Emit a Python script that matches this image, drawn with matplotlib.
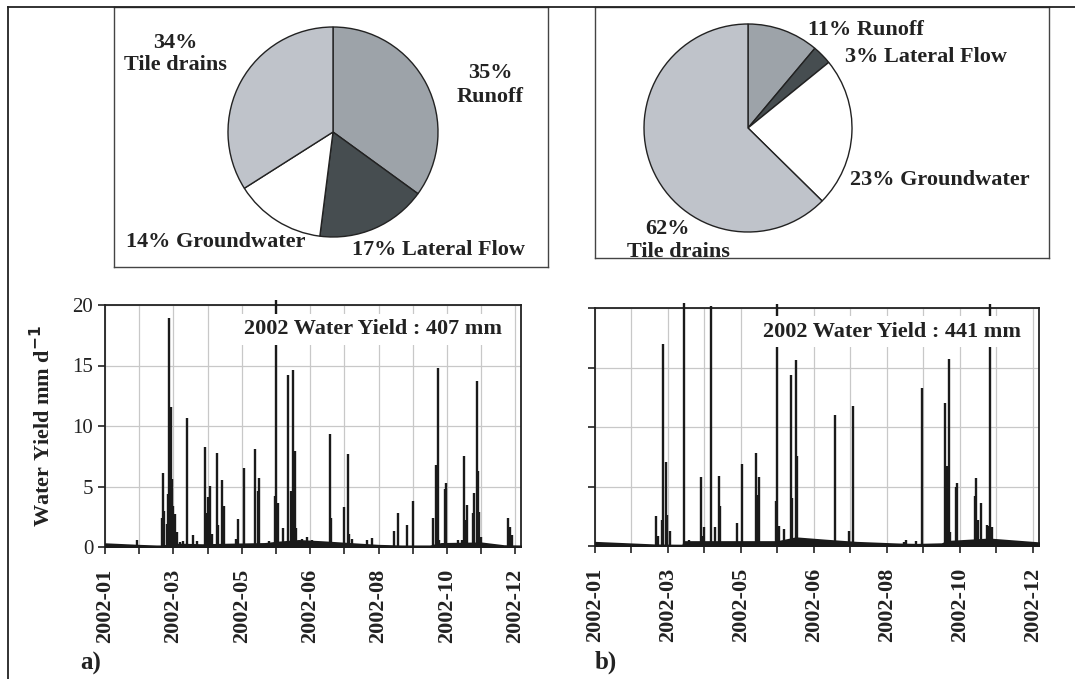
import datetime
import matplotlib
matplotlib.use('Agg')
import matplotlib.pyplot as plt
from matplotlib.lines import Line2D

plt.rcParams['font.family'] = ['Liberation Serif', 'DejaVu Serif']

# pie data
pie_labels = ['Runoff', 'Lateral Flow', 'Groundwater', 'Tile drains']
pie_colors = ['#9da3a9', '#464d50', '#ffffff', '#bfc3ca']
pie_a = [35, 17, 14, 34]
pie_b = [11, 3, 23, 62]

# daily water yield (day of year, mm/d) - storm peaks
a_days = [28, 50, 51, 52, 54, 55, 56, 58, 59, 60, 61, 63, 66, 68, 72, 77, 81, 88, 89, 90, 92, 94, 98, 99,
          103, 104, 115, 117, 122, 132, 134, 135, 144, 149, 150, 152, 156, 161, 163, 165, 167, 168, 173,
          177, 182, 197, 198, 210, 213, 214, 217, 230, 234, 254, 257, 265, 270, 288, 290, 292, 293, 298,
          299, 310, 313, 315, 316, 318, 323, 324, 326, 327, 328, 330, 354, 355, 357]
a_vals = [0.55, 2.4, 6.1, 3.0, 1.9, 4.4, 18.9, 11.6, 5.6, 3.4, 2.7, 1.2, 0.4, 0.5, 10.7, 1.0, 0.5, 8.3, 2.8,
          4.1, 5.05, 1.1, 7.8, 1.8, 5.5, 3.4, 0.7, 2.3, 6.5, 8.1, 4.6, 5.7, 0.5, 4.2, 20.4, 3.6, 1.6, 14.2,
          4.6, 14.6, 7.9, 1.6, 0.7, 0.8, 0.6, 9.3, 2.4, 3.3, 7.7, 1.1, 0.7, 0.55, 0.75, 1.3, 2.8, 1.8, 3.8,
          2.4, 6.8, 14.8, 0.6, 4.8, 5.3, 0.6, 0.6, 7.5, 2.2, 3.5, 2.8, 4.5, 13.7, 6.3, 2.9, 0.8, 2.4, 1.65,
          1.0]
# baseflow readings
a_base_days = [0, 30, 45, 49, 65, 85, 110, 140, 150, 170, 190, 215, 240, 260, 285, 295, 330, 350, 365]
a_base_vals = [0.28, 0.15, 0.1, 0.1, 0.25, 0.2, 0.25, 0.3, 0.4, 0.55, 0.45, 0.3, 0.15, 0.1, 0.1, 0.3, 0.35,
               0.12, 0.1]

b_days = [50, 52, 55, 56, 58, 59, 62, 73, 77, 87, 89, 90, 95, 99, 102, 103, 117, 121, 132, 134, 135, 149,
          150, 151, 155, 161, 162, 165, 166, 197, 209, 212, 254, 256, 264, 269, 288, 289, 291, 292, 297,
          298, 312, 313, 315, 317, 322, 323, 325, 326, 356]
b_vals = [2.5, 0.8, 2.2, 17.0, 7.1, 2.6, 1.3, 20.4, 0.5, 5.8, 0.8, 1.6, 20.2, 1.6, 5.85, 3.4, 1.9, 6.9, 7.8,
          4.3, 5.8, 3.8, 20.3, 1.7, 1.4, 14.4, 4.0, 15.6, 7.6, 11.0, 1.3, 11.8, 0.3, 0.5, 0.4, 13.3, 12.0,
          6.7, 15.7, 1.2, 5.0, 5.3, 4.2, 5.7, 2.2, 3.6, 1.8, 1.7, 20.3, 1.6, 0.3]
b_base_days = [0, 50, 72, 73, 150, 165, 190, 215, 250, 265, 285, 290, 324, 365]
b_base_vals = [0.32, 0.1, 0.08, 0.38, 0.38, 0.7, 0.5, 0.32, 0.18, 0.15, 0.2, 0.4, 0.6, 0.28]

W, H = 1075, 679
fig = plt.figure(figsize=(W / 100, H / 100), dpi=100)


def px_axes(left, top, right, bottom):
    return fig.add_axes([left / W, (H - bottom) / H, (right - left) / W, (bottom - top) / H])


# outer frame
fig.add_artist(Line2D([8 / W, 8 / W], [0, (H - 7) / H], color='#222222', lw=1.3))
fig.add_artist(Line2D([8 / W, 1], [(H - 7) / H, (H - 7) / H], color='#222222', lw=1.3))


def draw_pie(box, center, radius, vals):
    left, top, right, bottom = box
    ax = px_axes(left, top, right, bottom)
    ax.pie(vals, colors=pie_colors, startangle=90, counterclock=False,
           center=(center[0] - left, bottom - center[1]), radius=radius, frame=True,
           wedgeprops=dict(edgecolor='#222222', linewidth=1.0))
    ax.set_xlim(0, right - left)
    ax.set_ylim(0, bottom - top)
    ax.set_xticks([])
    ax.set_yticks([])
    for s in ax.spines.values():
        s.set_color('#444444')
        s.set_linewidth(1.0)
    return ax


tkw = dict(fontsize=16, fontweight='bold', color='#222222')

pa = draw_pie((114, 7, 548, 267), (333, 132), 105, pie_a)
pa.text(175 - 114, 267 - 54, '34%\nTile drains', ha='center', va='center', linespacing=1.2, **tkw)
pa.text(490 - 114, 267 - 85, '35%\nRunoff', ha='center', va='center', linespacing=1.2, **tkw)
pa.text(216 - 114, 267 - 242, '14% Groundwater', ha='center', va='center', **tkw)
pa.text(439 - 114, 267 - 250, '17% Lateral Flow', ha='center', va='center', **tkw)

pb = draw_pie((595, 7, 1049, 258), (748, 128), 104, pie_b)
pb.text(808 - 595, 258 - 30, '11% Runoff', ha='left', va='center', **tkw)
pb.text(845 - 595, 258 - 57, '3% Lateral Flow', ha='left', va='center', **tkw)
pb.text(850 - 595, 258 - 180, '23% Groundwater', ha='left', va='center', **tkw)
pb.text(668 - 595, 258 - 229, '62%', ha='center', va='center', **tkw)
pb.text(678 - 595, 258 - 252, 'Tile drains', ha='center', va='center', **tkw)

start = datetime.date(2002, 1, 1)
tick_days = list(range(0, 361, 30))
tick_labels = [(start + datetime.timedelta(days=d)).strftime('%Y-%m') if i % 2 == 0 else ''
               for i, d in enumerate(tick_days)]


def draw_series(ax, days, vals, bdays, bvals, total, show_y, text_x):
    ax.fill_between(bdays, 0, bvals, color='#1a1a1a', lw=1.2, zorder=3)
    ax.vlines(days, 0, vals, color='#1a1a1a', lw=1.7, zorder=3, clip_on=False)
    ax.set_xlim(0, 365)
    ax.set_ylim(0, 20)
    ax.set_yticks([0, 5, 10, 15, 20])
    ax.set_xticks(tick_days)
    ax.set_xticklabels(tick_labels, rotation=90, fontsize=16, fontweight='bold', color='#222222')
    if show_y:
        ax.set_yticklabels(['0', '5', '10', '15', '20'], fontsize=15, color='#222222')
    else:
        ax.set_yticklabels([])
    ax.tick_params(direction='out', length=5, width=1.2, color='#222222')
    ax.tick_params(axis='x', pad=11)
    ax.grid(True, color='#c8c8c8', lw=0.9)
    ax.set_axisbelow(True)
    for s in ax.spines.values():
        s.set_color('#222222')
        s.set_linewidth(1.3)
    ax.text(text_x, 0.9, '2002 Water Yield : %d mm' % total, transform=ax.transAxes, ha='center',
            va='center', fontsize=16, fontweight='bold', color='#222222', zorder=5,
            bbox=dict(facecolor='white', edgecolor='none', pad=4))


ta = px_axes(105, 305, 521, 547)
draw_series(ta, a_days, a_vals, a_base_days, a_base_vals, 407, True, 0.645)
ta.set_ylabel('Water Yield mm d$^{\\mathbf{-1}}$', fontsize=16, fontweight='bold', color='#222222',
              labelpad=12)

tb = px_axes(595, 308, 1039, 546)
draw_series(tb, b_days, b_vals, b_base_days, b_base_vals, 441, False, 0.67)

fig.text(80 / W, (H - 663) / H, 'a)', fontsize=18, fontweight='bold', color='#222222', va='center')
fig.text(595 / W, (H - 662) / H, 'b)', fontsize=18, fontweight='bold', color='#222222', va='center')

fig.savefig('out.png', dpi=100)
